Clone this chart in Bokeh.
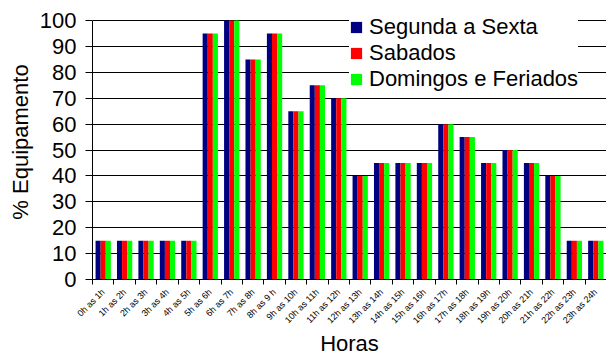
import math
from bokeh.plotting import figure
from bokeh.models import ColumnDataSource, FixedTicker, Range1d, Legend, LegendItem
from bokeh.transform import dodge
from bokeh.embed import file_html
from bokeh.resources import INLINE

categories = ["0h as 1h", "1h as 2h", "2h as 3h", "3h as 4h", "4h as 5h", "5h as 6h",
              "6h as 7h", "7h as 8h", "8h as 9 h", "9h as 10h", "10h as 11h", "11h as 12h",
              "12h as 13h", "13h as 14h", "14h as 15h", "15h as 16h", "16h as 17h", "17h as 18h",
              "18h as 19h", "19h as 20h", "20h as 21h", "21h as 22h", "22h as 23h", "23h as 24h"]
segunda_a_sexta = [15, 15, 15, 15, 15, 95, 100, 85, 95, 65, 75, 70,
                   40, 45, 45, 45, 60, 55, 45, 50, 45, 40, 15, 15]
sabados = [15, 15, 15, 15, 15, 95, 100, 85, 95, 65, 75, 70,
           40, 45, 45, 45, 60, 55, 45, 50, 45, 40, 15, 15]
domingos_feriados = [15, 15, 15, 15, 15, 95, 100, 85, 95, 65, 75, 70,
                     40, 45, 45, 45, 60, 55, 45, 50, 45, 40, 15, 15]
series_names = ["Segunda a Sexta", "Sabados", "Domingos e Feriados"]
y_ticks = list(range(0, 101, 10))

FONT = "Liberation Sans"
centers = [i + 0.5 for i in range(len(categories))]
bounds = list(range(len(categories) + 1))

src = ColumnDataSource(dict(x=centers, s1=segunda_a_sexta, s2=sabados, s3=domingos_feriados))

# frame extends a little above 100 so the legend can sit there (as in the reference)
p = figure(width=606, height=360, output_backend="svg", toolbar_location=None,
           x_range=Range1d(0, len(categories)), y_range=Range1d(0, 106.2),
           min_border_left=92, min_border_right=0, min_border_top=4, min_border_bottom=81)

bw = 0.238
colors = ["#000080", "#FF0000", "#00FF00"]
renderers = []
for k, (col, c) in enumerate(zip(["s1", "s2", "s3"], colors)):
    r = p.vbar(x=dodge("x", (k - 1) * bw, range=p.x_range), top=col, width=bw, source=src,
               fill_color=c, line_color=None)
    renderers.append(r)

legend = Legend(items=[LegendItem(label=n, renderers=[r]) for n, r in zip(series_names, renderers)],
                location=(257, 187))
legend.label_text_font = FONT
legend.label_text_font_size = "22px"
legend.label_text_color = "#000000"
legend.glyph_width = 14
legend.glyph_height = 14
legend.label_standoff = 6
legend.spacing = 0
legend.padding = 5
legend.margin = 0
legend.border_line_color = None
legend.background_fill_color = "white"
legend.background_fill_alpha = 1.0
p.add_layout(legend, "center")

p.outline_line_color = None
p.xgrid.grid_line_color = None
p.ygrid.grid_line_color = "#000000"
p.ygrid.grid_line_width = 1
p.ygrid.ticker = FixedTicker(ticks=y_ticks)

p.yaxis.ticker = FixedTicker(ticks=y_ticks)
p.yaxis.bounds = (0, 100)
p.yaxis.axis_label = "% Equipamento"
p.yaxis.axis_label_text_font = FONT
p.yaxis.axis_label_text_font_size = "22px"
p.yaxis.axis_label_text_font_style = "normal"
p.yaxis.axis_label_text_color = "#000000"
p.yaxis.major_label_text_font = FONT
p.yaxis.major_label_text_font_size = "22px"
p.yaxis.major_label_text_color = "#000000"
p.yaxis.major_tick_out = 7
p.yaxis.major_tick_in = 0
p.yaxis.major_tick_line_color = "#000000"
p.yaxis.minor_tick_line_color = None
p.yaxis.major_label_standoff = 9
p.yaxis.axis_line_color = "#000000"
p.yaxis.axis_label_standoff = 4

p.xaxis.ticker = FixedTicker(ticks=centers, minor_ticks=bounds)
p.xaxis.major_label_overrides = {c: lab for c, lab in zip(centers, categories)}
p.xaxis.major_label_orientation = math.pi / 4
p.xaxis.major_label_text_font = FONT
p.xaxis.major_label_text_font_size = "9px"
p.xaxis.major_label_text_color = "#000000"
p.xaxis.major_tick_line_color = None
p.xaxis.major_tick_out = 0
p.xaxis.major_tick_in = 0
p.xaxis.minor_tick_out = 5
p.xaxis.minor_tick_in = 0
p.xaxis.minor_tick_line_color = "#000000"
p.xaxis.major_label_standoff = 6
p.xaxis.axis_label = "Horas"
p.xaxis.axis_label_text_font = FONT
p.xaxis.axis_label_text_font_size = "22px"
p.xaxis.axis_label_text_font_style = "normal"
p.xaxis.axis_label_text_color = "#000000"
p.xaxis.axis_label_standoff = -1
p.xaxis.axis_line_color = "#000000"

open("out.html", "w").write(file_html(p, INLINE))
